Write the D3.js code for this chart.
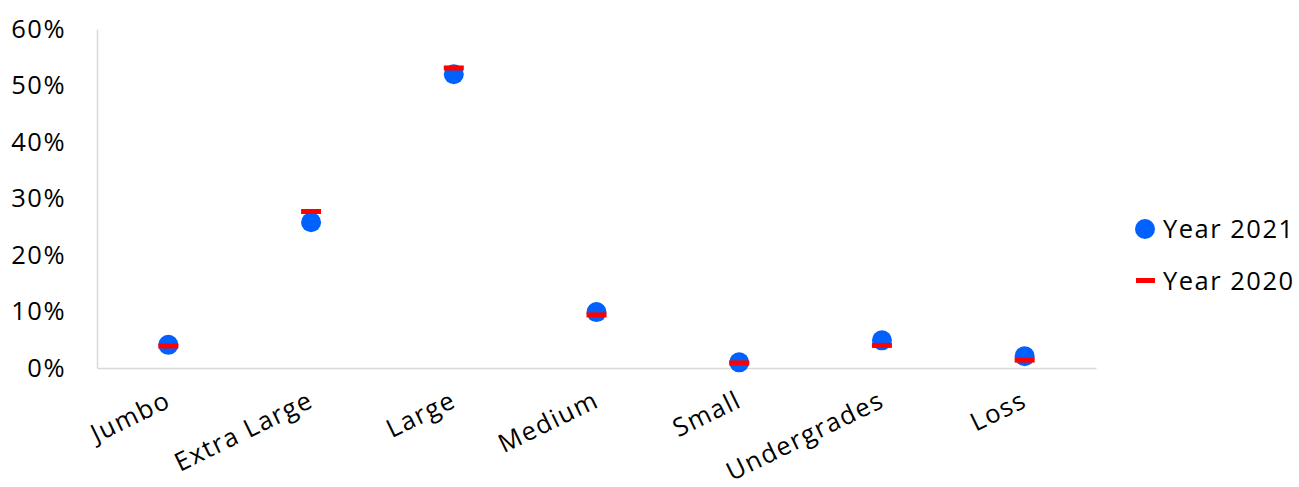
<!DOCTYPE html>
<html>
<head>
<meta charset="utf-8">
<script src="https://cdn.jsdelivr.net/npm/d3@7"></script>
<style>
  html, body { margin: 0; padding: 0; background: #fff; }
  svg { display: block; font-family: "Open Sans", "Noto Sans", sans-serif; }
  text { letter-spacing: 1.5px; }
</style>
</head>
<body>
<svg id="chart" width="1299" height="487"></svg>
<script>
// Share of output by size grade
const categories = ["Jumbo", "Extra Large", "Large", "Medium", "Small", "Undergrades", "Loss"];
const year2021 = [0.041, 0.258, 0.520, 0.099, 0.010, 0.049, 0.021];
const year2020 = [0.039, 0.277, 0.531, 0.094, 0.009, 0.040, 0.014];
const yTicks = [0, 0.1, 0.2, 0.3, 0.4, 0.5, 0.6];
const seriesNames = ["Year 2021", "Year 2020"];

const svg = d3.select("#chart");
const plotLeft = 97, plotRight = 1096, plotTop = 29, plotBottom = 368;
const fontSize = 25.5;

const x = d3.scaleBand().domain(categories).range([plotLeft, plotRight]);
const y = d3.scaleLinear().domain([0, 0.6]).range([plotBottom, plotTop]);

// y axis
const yAxis = svg.append("g").attr("transform", `translate(${plotLeft},0)`)
  .call(d3.axisLeft(y).tickValues(yTicks).tickFormat(d3.format(".0%")).tickSize(0).tickPadding(31));
yAxis.select(".domain").attr("stroke", "#d9d9d9").attr("stroke-width", 1.5);
yAxis.selectAll("text").attr("font-size", fontSize).attr("fill", "#000").attr("font-family", "Open Sans, sans-serif");

// x axis
const xAxis = svg.append("g").attr("transform", `translate(0,${plotBottom})`)
  .call(d3.axisBottom(x).tickSize(0).tickPadding(0));
xAxis.select(".domain").attr("stroke", "#d9d9d9").attr("stroke-width", 1.5);
xAxis.selectAll("text")
  .attr("font-size", fontSize).attr("fill", "#000")
  .attr("font-family", "Open Sans, sans-serif")
  .attr("text-anchor", "end")
  .attr("dy", 0)
  .attr("transform", "translate(4,38) rotate(-26)");

const cx = d => x(d) + x.bandwidth() / 2;

// Year 2021 markers
svg.append("g").selectAll("circle").data(categories).join("circle")
  .attr("cx", d => cx(d))
  .attr("cy", (d, i) => y(year2021[i]))
  .attr("r", 10)
  .attr("fill", "#0061ff");

// Year 2020 markers
svg.append("g").selectAll("rect").data(categories).join("rect")
  .attr("x", d => cx(d) - 10)
  .attr("y", (d, i) => y(year2020[i]) - 2.5)
  .attr("width", 20).attr("height", 5)
  .attr("fill", "#ff0000");

// legend
const lg = svg.append("g");
lg.append("circle").attr("cx", 1145).attr("cy", 229).attr("r", 10).attr("fill", "#0061ff");
lg.append("rect").attr("x", 1136).attr("y", 278).attr("width", 19).attr("height", 5).attr("fill", "#ff0000");
lg.selectAll("text").data(seriesNames).join("text")
  .attr("x", 1163).attr("y", (d, i) => 229 + i * 52)
  .attr("dy", "0.35em")
  .attr("font-size", fontSize).attr("fill", "#000")
  .text(d => d);
</script>
</body>
</html>
